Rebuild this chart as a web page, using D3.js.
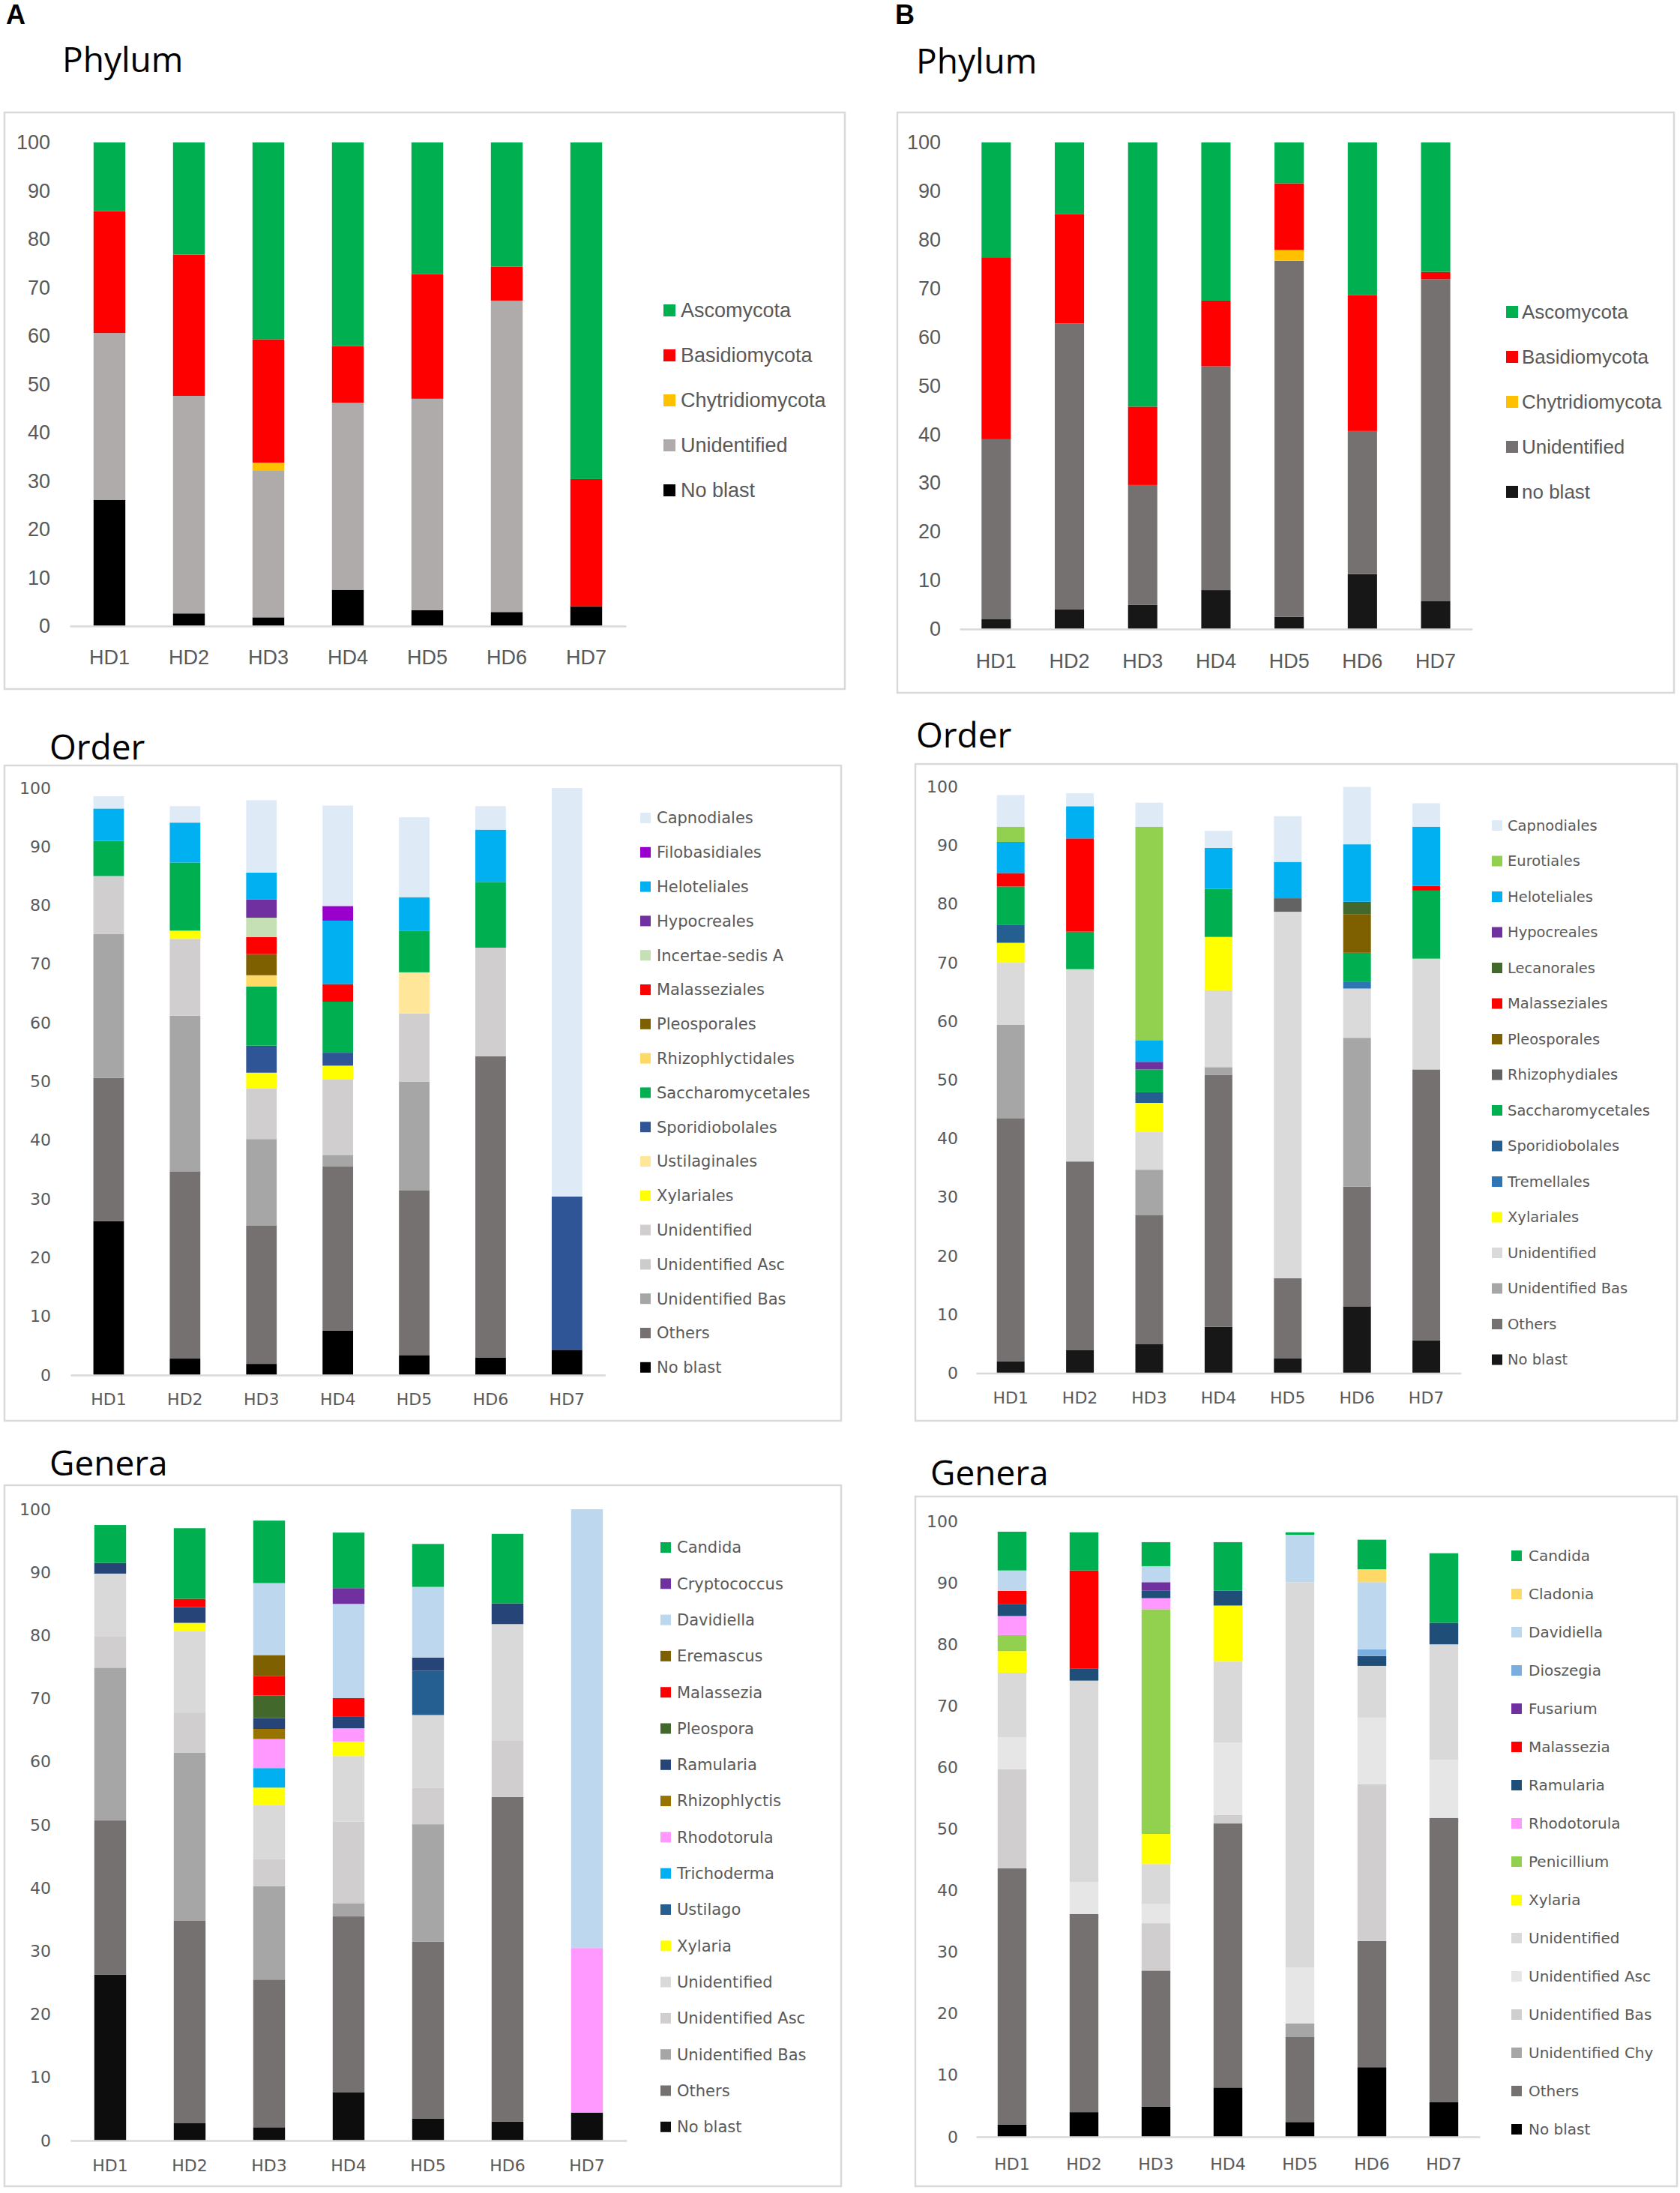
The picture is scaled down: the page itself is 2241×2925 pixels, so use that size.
<!DOCTYPE html>
<html><head><meta charset="utf-8">
<script src="https://cdn.jsdelivr.net/npm/d3@7"></script>
<style>html,body{margin:0;padding:0;background:#fff;}svg{display:block;}</style>
</head><body>
<svg id="chart" width="2241" height="2925"></svg>
<script>
// ---------------- DATA ----------------
const categories = ["HD1","HD2","HD3","HD4","HD5","HD6","HD7"];
const yTicks = [0,10,20,30,40,50,60,70,80,90,100];

// Phylum A (legend order)
const phylumASeries = ["Ascomycota","Basidiomycota","Chytridiomycota","Unidentified","No blast"];
const phylumAValues = [
  [14.2,23.2,40.7,42.1,27.2,25.7,69.6],
  [25.2,29.2,25.5,11.7,25.8,7.0,26.3],
  [0,0,1.7,0,0,0,0],
  [34.5,45.0,30.3,38.7,43.7,64.4,0],
  [26.1,2.6,1.8,7.5,3.3,2.9,4.1]
];
const phylumAColors = ["#00b050","#ff0000","#ffc000","#afabab","#000000"];

// Phylum B
const phylumBSeries = ["Ascomycota","Basidiomycota","Chytridiomycota","Unidentified","no blast"];
const phylumBValues = [
  [23.6,14.7,54.3,32.5,8.4,31.4,26.6],
  [37.4,22.5,16.1,13.5,13.7,27.9,1.5],
  [0,0,0,0,2.2,0,0],
  [37.0,58.8,24.6,46.0,73.2,29.4,66.2],
  [2.0,4.0,5.0,8.0,2.5,11.3,5.7]
];
const phylumBColors = ["#00b050","#ff0000","#ffc000","#767171","#171717"];

// Order A
const orderASeries = ["Capnodiales","Filobasidiales","Heloteliales","Hypocreales","Incertae-sedis A","Malasseziales","Pleosporales","Rhizophlyctidales","Saccharomycetales","Sporidiobolales","Ustilaginales","Xylariales","Unidentified","Unidentified Asc","Unidentified Bas","Others","No blast"];
const orderAValues = [
  [2.1,2.8,12.3,17.1,13.6,4.0,69.6],
  [0,0,0,2.5,0,0,0],
  [5.5,6.8,4.6,10.8,5.7,8.9,0],
  [0,0,3.1,0,0,0,0],
  [0,0,3.3,0,0,0,0],
  [0,0,2.9,3.0,0,0,0],
  [0,0,3.6,0,0,0,0],
  [0,0,1.9,0,0,0,0],
  [6.0,11.6,10.1,8.7,7.1,11.2,0],
  [0,0,4.6,2.2,0,0,26.1],
  [0,0,0,0,7.0,0,0],
  [0,1.4,2.7,2.3,0,0,0],
  [9.9,13.1,8.6,12.9,11.6,18.5,0],
  [0,0,0,0,0,0,0],
  [24.5,26.5,14.7,2.0,18.5,0,0],
  [24.4,31.9,23.6,27.9,28.1,51.3,0],
  [26.2,2.8,1.9,7.6,3.4,3.0,4.3]
];
const orderAColors = ["#deebf7","#9900cc","#00b0f0","#7030a0","#c5e0b4","#ff0000","#7f6000","#ffd966","#00b050","#2f5597","#ffe699","#ffff00","#d0cece","#cccccc","#a6a6a6","#767171","#000000"];

// Order B
const orderBSeries = ["Capnodiales","Eurotiales","Heloteliales","Hypocreales","Lecanorales","Malasseziales","Pleosporales","Rhizophydiales","Saccharomycetales","Sporidiobolales","Tremellales","Xylariales","Unidentified","Unidentified Bas","Others","No blast"];
const orderBValues = [
  [5.4,2.2,4.1,2.9,7.8,9.8,4.0],
  [2.6,0,36.4,0,0,0,0],
  [5.3,5.5,3.7,7.0,6.2,9.8,10.1],
  [0,0,1.3,0,0,0,0],
  [0,0,0,0,0,2.1,0],
  [2.3,15.9,0,0,0,0,0.8],
  [0,0,0,0,0,6.6,0],
  [0,0,0,0,2.3,0,0],
  [6.5,6.4,3.9,8.2,0,5.0,11.6],
  [3.1,0,1.8,0,0,0,0],
  [0,0,0,0,0,1.1,0],
  [3.4,0,4.9,9.1,0,0,0],
  [10.6,32.8,6.5,13.1,62.5,8.4,18.9],
  [15.9,0,7.7,1.3,0,25.4,0],
  [41.5,32.2,22.0,43.0,13.7,20.4,46.2],
  [2.0,3.9,5.0,7.9,2.5,11.4,5.6]
];
const orderBColors = ["#deebf7","#92d050","#00b0f0","#7030a0","#43682b","#ff0000","#7f6000","#636363","#00b050","#255e91","#2e75b6","#ffff00","#dadada","#a6a6a6","#767171","#171717"];

// Genera A
const generaASeries = ["Candida","Cryptococcus","Davidiella","Eremascus","Malassezia","Pleospora","Ramularia","Rhizophlyctis","Rhodotorula","Trichoderma","Ustilago","Xylaria","Unidentified","Unidentified Asc","Unidentified Bas","Others","No blast"];
const generaAValues = [
  [6.0,11.2,9.9,8.8,6.8,11.0,0],
  [0,0,0,2.5,0,0,0],
  [0,0,11.4,14.9,11.2,0,69.5],
  [0,0,3.3,0,0,0,0],
  [0,1.3,3.1,2.9,0,0,0],
  [0,0,3.6,0,0,0,0],
  [1.7,2.5,1.7,1.9,2.1,3.3,0],
  [0,0,1.6,0,0,0,0],
  [0,0,4.6,2.1,0,0,26.1],
  [0,0,3.1,0,0,0,0],
  [0,0,0,0,7.0,0,0],
  [0,1.3,2.8,2.3,0,0,0],
  [9.9,12.9,8.5,10.4,11.5,18.5,0],
  [5.0,6.4,4.3,12.9,5.8,8.9,0],
  [24.2,26.6,14.8,2.1,18.6,0,0],
  [24.4,32.0,23.4,27.9,28.0,51.4,0],
  [26.3,2.8,2.1,7.6,3.5,3.0,4.4]
];
const generaAColors = ["#00b050","#7030a0","#bdd7ee","#7f6000","#ff0000","#43682b","#264478","#997300","#ff99ff","#00b0f0","#255e91","#ffff00","#d9d9d9","#d0cece","#a6a6a6","#767171","#0d0d0d"];

// Genera B
const generaBSeries = ["Candida","Cladonia","Davidiella","Dioszegia","Fusarium","Malassezia","Ramularia","Rhodotorula","Penicillium","Xylaria","Unidentified","Unidentified Asc","Unidentified Bas","Unidentified Chy","Others","No blast"];
const generaBValues = [
  [6.3,6.2,3.9,7.9,0.4,4.8,11.3],
  [0,0,0,0,0,2.1,0],
  [3.3,0,2.6,0,7.7,10.9,0],
  [0,0,0,0,0,1.1,0],
  [0,0,1.4,0,0,0,0],
  [2.2,15.9,0,0,0,0,0],
  [1.9,2.0,1.2,2.4,0,1.6,3.5],
  [3.1,0,1.8,0,0,0,0],
  [2.6,0,36.5,0,0,0,0],
  [3.5,0,4.9,9.1,0,0,0],
  [10.5,32.7,6.5,13.2,62.6,8.4,18.8],
  [5.2,5.2,3.1,11.7,9.1,10.8,9.4],
  [16.1,0,7.7,1.4,0,25.5,0],
  [0,0,0,0,2.2,0,0],
  [41.6,32.2,22.1,42.9,13.8,20.5,46.2],
  [2.0,4.0,4.9,8.0,2.4,11.3,5.6]
];
const generaBColors = ["#00b050","#ffd966","#bdd7ee","#7aaedf","#7030a0","#ff0000","#1f4e79","#ff99ff","#92d050","#ffff00","#d9d9d9","#e7e6e6","#d0cece","#a6a6a6","#767171","#000000"];

// ---------------- LAYOUT ----------------
const narrowFont = "'Liberation Sans',Arial,sans-serif";
const wideFont = "'DejaVu Sans',Verdana,sans-serif";
const titleFont = "'Open Sans','Noto Sans',sans-serif";

const panels = [
  {series: phylumASeries, values: phylumAValues, colors: phylumAColors, title: "Phylum",
   box: [6,150,1121,769], titleX: 83, titleY: 96, y0: 835, y100: 190, xLeft: 93, band: 106,
   labelRight: 67, xLabelY: 877, font: narrowFont, fs: 27,
   leg: {sqX: 885, textX: 908, y0: 414, dy: 60, sq: 16, fs: 27}},
  {series: phylumBSeries, values: phylumBValues, colors: phylumBColors, title: "Phylum",
   box: [1197,150,1036,774], titleX: 1222, titleY: 98, y0: 839, y100: 190, xLeft: 1280, band: 97.7,
   labelRight: 1255, xLabelY: 882, font: narrowFont, fs: 27,
   leg: {sqX: 2009, textX: 2030, y0: 416, dy: 60, sq: 16, fs: 26}},
  {series: orderASeries, values: orderAValues, colors: orderAColors, title: "Order",
   box: [6,1021,1116,874], titleX: 66, titleY: 1013, y0: 1834, y100: 1051, xLeft: 94, band: 101.9,
   labelRight: 68, xLabelY: 1866, font: wideFont, fs: 22,
   leg: {sqX: 854, textX: 876, y0: 1091, dy: 45.8, sq: 14, fs: 21}},
  {series: orderBSeries, values: orderBValues, colors: orderBColors, title: "Order",
   box: [1221,1019,1016,876], titleX: 1222, titleY: 997, y0: 1831.5, y100: 1049.5, xLeft: 1302, band: 92.4,
   labelRight: 1278, xLabelY: 1864, font: wideFont, fs: 22,
   leg: {sqX: 1990, textX: 2011, y0: 1101, dy: 47.5, sq: 14, fs: 19.5}},
  {series: generaASeries, values: generaAValues, colors: generaAColors, title: "Genera",
   box: [6,1981,1116,935], titleX: 66, titleY: 1968, y0: 2855, y100: 2013, xLeft: 94, band: 106,
   labelRight: 68, xLabelY: 2888, font: wideFont, fs: 22,
   leg: {sqX: 881, textX: 903, y0: 2064, dy: 48.3, sq: 14, fs: 21}},
  {series: generaBSeries, values: generaBValues, colors: generaBColors, title: "Genera",
   box: [1221,1996,1016,920], titleX: 1241, titleY: 1981, y0: 2850, y100: 2029, xLeft: 1302, band: 96,
   labelRight: 1278, xLabelY: 2886, font: wideFont, fs: 22,
   leg: {sqX: 2016, textX: 2039, y0: 2075, dy: 51, sq: 14, fs: 20}}
];

const svg = d3.select("#chart");
svg.append("rect").attr("width",2241).attr("height",2925).attr("fill","#fff");

// Panel letters
svg.append("text").attr("x",8).attr("y",32).text("A")
  .attr("font-family","'Liberation Sans',Arial,sans-serif").attr("font-weight","bold").attr("font-size",36);
svg.append("text").attr("x",1194).attr("y",32).text("B")
  .attr("font-family","'Liberation Sans',Arial,sans-serif").attr("font-weight","bold").attr("font-size",36);

panels.forEach(p => {
  const g = svg.append("g");
  // box
  g.append("rect").attr("x",p.box[0]).attr("y",p.box[1]).attr("width",p.box[2]).attr("height",p.box[3])
    .attr("fill","#fff").attr("stroke","#d9d9d9").attr("stroke-width",2.5);
  // title
  g.append("text").attr("x",p.titleX).attr("y",p.titleY).text(p.title)
    .attr("font-family",titleFont).attr("font-size",46).attr("fill","#000");

  const x = d3.scaleBand().domain(categories)
    .range([p.xLeft, p.xLeft + categories.length*p.band]).paddingInner(0.6).paddingOuter(0.3);
  const y = d3.scaleLinear().domain([0,100]).range([p.y0, p.y100]);

  // table rows
  const rows = categories.map((c,i) => {
    const r = {cat: c};
    p.series.forEach((s,j) => r[s] = p.values[j][i]);
    return r;
  });
  const keys = p.series.slice().reverse();
  const colorOf = {};
  p.series.forEach((s,j) => colorOf[s] = p.colors[j]);
  const stacked = d3.stack().keys(keys)(rows);

  const layers = g.append("g").selectAll("g").data(stacked).join("g")
    .attr("fill", d => colorOf[d.key]);
  layers.selectAll("rect").data(d => d.filter(v => v[1]-v[0] > 0)).join("rect")
    .attr("x", d => x(d.data.cat))
    .attr("width", x.bandwidth())
    .attr("y", d => y(d[1]))
    .attr("height", d => y(d[0]) - y(d[1]));

  // x axis
  const xa = g.append("g").attr("transform",`translate(0,${p.y0})`)
    .call(d3.axisBottom(x).tickSize(0).tickSizeOuter(0).tickPadding(p.xLabelY - p.y0 - 0.36*p.fs));
  xa.select(".domain").attr("stroke","#d9d9d9").attr("stroke-width",2.5);
  xa.selectAll("text").attr("font-family",p.font).attr("font-size",p.fs).attr("fill","#595959");

  // y axis
  const ya = g.append("g").attr("transform",`translate(${p.labelRight},0)`)
    .call(d3.axisLeft(y).tickValues(yTicks).tickSize(0).tickPadding(0));
  ya.select(".domain").remove();
  ya.selectAll("text").attr("font-family",p.font).attr("font-size",p.fs).attr("fill","#595959");

  // legend
  const lg = g.append("g").selectAll("g").data(p.series).join("g")
    .attr("transform",(d,i) => `translate(0,${p.leg.y0 + i*p.leg.dy})`);
  lg.append("rect").attr("x",p.leg.sqX).attr("y",-p.leg.sq/2).attr("width",p.leg.sq).attr("height",p.leg.sq)
    .attr("fill",(d,i) => p.colors[i]);
  lg.append("text").attr("x",p.leg.textX).attr("y",0).attr("dy","0.35em").text(d => d)
    .attr("font-family",p.font).attr("font-size",p.leg.fs).attr("fill","#595959");
});
</script>
</body></html>
